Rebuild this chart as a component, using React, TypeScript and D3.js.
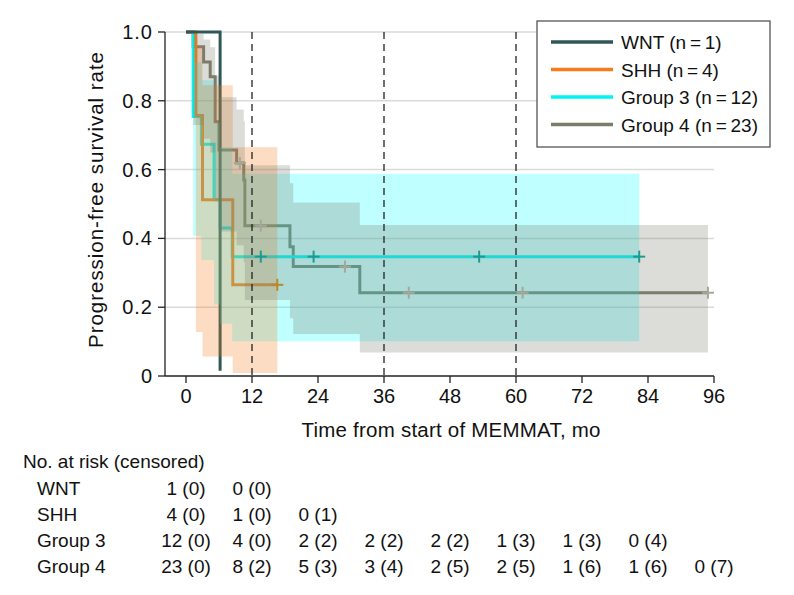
import React from "react";
import * as d3 from "d3";

// ---------- data ----------
const groupNames = ["WNT", "SHH", "Group 3", "Group 4"];
const groupN = [1, 4, 12, 23];
const lineColors = ["#2f5757", "#f47d1c", "#00f5f5", "#7c7c6a"];
const markColors = ["#2f5757", "#b8892c", "#1f9a92", "#a4a898"];

// step curves: time (mo) at which each level begins, survival level
const wntTimes = [0, 6.2];
const wntSurv = [1.0, 0.015];
const wntEnd = 6.2;

const shhTimes = [0, 1.8, 3.0, 8.5];
const shhSurv = [1.0, 0.757, 0.512, 0.265];
const shhLower = [1.0, 0.128, 0.057, 0.009];
const shhUpper = [1.0, 0.961, 0.845, 0.665];
const shhEnd = 16.6;
const shhCensor = [16.6];

const g3Times = [0, 1.3, 2.8, 5.1, 6.2, 8.4];
const g3Surv = [1.0, 0.754, 0.674, 0.512, 0.43, 0.347];
const g3Lower = [1.0, 0.408, 0.337, 0.208, 0.152, 0.101];
const g3Upper = [1.0, 0.912, 0.86, 0.736, 0.666, 0.588];
const g3End = 82.4;
const g3Censor = [13.6, 23.2, 53.3, 82.4];

const g4Times = [0, 1.3, 3.2, 4.4, 5.3, 6.0, 9.2, 10.5, 10.7, 18.9, 19.5, 31.6];
const g4Surv = [1.0, 0.957, 0.913, 0.87, 0.739, 0.657, 0.619, 0.57, 0.437, 0.376, 0.318, 0.242];
const g4Lower = [1.0, 0.73, 0.69, 0.65, 0.51, 0.42, 0.38, 0.33, 0.221, 0.168, 0.122, 0.068];
const g4Upper = [1.0, 0.994, 0.978, 0.956, 0.873, 0.81, 0.775, 0.74, 0.613, 0.56, 0.504, 0.439];
const g4End = 94.9;
const g4Censor = [9.8, 13.6, 28.9, 40.5, 61.2, 94.9];

const xTicks = [0, 12, 24, 36, 48, 60, 72, 84, 96];
const yTicks = [0, 0.2, 0.4, 0.6, 0.8, 1.0];
const yTickLabels = ["0", "0.2", "0.4", "0.6", "0.8", "1.0"];
const landmarks = [12, 36, 60];

const riskTimes = [0, 12, 24, 36, 48, 60, 72, 84, 96];
const wntAtRisk = [1, 0];
const wntCens = [0, 0];
const shhAtRisk = [4, 1, 0];
const shhCens = [0, 0, 1];
const g3AtRisk = [12, 4, 2, 2, 2, 1, 1, 0];
const g3Cens = [0, 0, 2, 2, 2, 3, 3, 4];
const g4AtRisk = [23, 8, 5, 3, 2, 2, 1, 1, 0];
const g4Cens = [0, 2, 3, 4, 5, 5, 6, 6, 7];

// ---------- helpers ----------
const FONT = "'Liberation Sans', Arial, sans-serif";
const x = d3.scaleLinear().domain([0, 96]).range([186, 714]);
const y = d3.scaleLinear().domain([0, 1]).range([376, 32]);

type P = { t: number; s: number; lo: number; hi: number };
function pts(times: number[], surv: number[], end: number, lo?: number[], hi?: number[]): P[] {
  const out: P[] = times.map((t, i) => ({ t, s: surv[i], lo: lo ? lo[i] : surv[i], hi: hi ? hi[i] : surv[i] }));
  const last = out[out.length - 1];
  if (end > last.t) out.push({ ...last, t: end });
  return out;
}
function stepAt(times: number[], surv: number[], t: number) {
  let v = surv[0];
  times.forEach((tt, i) => { if (tt <= t) v = surv[i]; });
  return v;
}

const line = d3.line<P>().x(d => x(d.t)).y(d => y(d.s)).curve(d3.curveStepAfter);
const area = d3.area<P>().x(d => x(d.t)).y0(d => y(d.lo)).y1(d => y(d.hi)).curve(d3.curveStepAfter);

const wntPts = pts(wntTimes, wntSurv, wntEnd);
const shhPts = pts(shhTimes, shhSurv, shhEnd, shhLower, shhUpper);
const g3Pts = pts(g3Times, g3Surv, g3End, g3Lower, g3Upper);
const g4Pts = pts(g4Times, g4Surv, g4End, g4Lower, g4Upper);

const fillColors = ["none", "#f47d1c", "#00ffff", "#7f7f6e"];
const FILL_OP = 0.27;

function Censor({ t, s, color }: { t: number; s: number; color: string }) {
  const cx = x(t), cy = y(s);
  return (
    <g stroke={color} strokeWidth={2}>
      <line x1={cx - 6} x2={cx + 6} y1={cy} y2={cy} />
      <line x1={cx} x2={cx} y1={cy - 6} y2={cy + 6} />
    </g>
  );
}

export default function App() {
  const riskRows = [
    { name: groupNames[0], n: wntAtRisk, c: wntCens },
    { name: groupNames[1], n: shhAtRisk, c: shhCens },
    { name: groupNames[2], n: g3AtRisk, c: g3Cens },
    { name: groupNames[3], n: g4AtRisk, c: g4Cens },
  ];
  const rowY = [495, 521, 547, 573];
  const legY = [42, 69.5, 97, 124.5];
  return (
    <svg width={794} height={595} style={{ position: "absolute", left: 0, top: 0, background: "#fff" }} fontFamily={FONT}>
      {/* gridlines */}
      {yTicks.filter(v => v > 0).map(v => (
        <line key={v} x1={165} x2={714} y1={y(v)} y2={y(v)} stroke="#dadada" strokeWidth={1.5} />
      ))}
      {/* survival lines (under the CI fills) */}
      <path d={line(g4Pts) || ""} fill="none" stroke={lineColors[3]} strokeWidth={3} />
      <path d={line(g3Pts) || ""} fill="none" stroke={lineColors[2]} strokeWidth={3} />
      <path d={line(shhPts) || ""} fill="none" stroke={lineColors[1]} strokeWidth={3} />
      <path d={line(wntPts) || ""} fill="none" stroke={lineColors[0]} strokeWidth={3} />
      {/* CI bands */}
      <path d={area(g3Pts) || ""} fill={fillColors[2]} fillOpacity={0.25} />
      <path d={area(shhPts) || ""} fill={fillColors[1]} fillOpacity={FILL_OP} />
      <path d={area(g4Pts) || ""} fill={fillColors[3]} fillOpacity={FILL_OP} />
      {/* censor marks */}
      {shhCensor.map(t => <Censor key={"s" + t} t={t} s={stepAt(shhTimes, shhSurv, t)} color={markColors[1]} />)}
      {g3Censor.map(t => <Censor key={"g3" + t} t={t} s={stepAt(g3Times, g3Surv, t)} color={markColors[2]} />)}
      {g4Censor.map(t => <Censor key={"g4" + t} t={t} s={stepAt(g4Times, g4Surv, t)} color={markColors[3]} />)}
      {/* landmark dashed lines */}
      {landmarks.map(t => (
        <line key={t} x1={x(t)} x2={x(t)} y1={y(1)} y2={y(0)} stroke="#222" strokeWidth={1.3} strokeDasharray="7 5" />
      ))}
      {/* axes */}
      <line x1={165} x2={165} y1={y(1)} y2={y(0)} stroke="#222" strokeWidth={1.3} />
      <line x1={165} x2={714} y1={y(0)} y2={y(0)} stroke="#222" strokeWidth={1.3} />
      {yTicks.map((v, i) => (
        <g key={v}>
          <line x1={158} x2={165} y1={y(v)} y2={y(v)} stroke="#222" strokeWidth={1.3} />
          <text x={153} y={y(v) + 7} textAnchor="end" fontSize={20} letterSpacing={1} fill="#111">{yTickLabels[i]}</text>
        </g>
      ))}
      {xTicks.map(t => (
        <g key={t}>
          <line x1={x(t)} x2={x(t)} y1={y(0)} y2={y(0) + 7} stroke="#222" strokeWidth={1.3} />
          <text x={x(t)} y={403} textAnchor="middle" fontSize={20} fill="#111">{t}</text>
        </g>
      ))}
      <text x={451} y={437} textAnchor="middle" fontSize={20.5} fill="#111" textLength={299} lengthAdjust="spacing">Time from start of MEMMAT, mo</text>
      <text transform="translate(103,200) rotate(-90)" textAnchor="middle" fontSize={20.5} fill="#111" textLength={296} lengthAdjust="spacing">Progression-free survival rate</text>
      {/* legend */}
      <rect x={537} y={21} width={233} height={126} fill="#fff" stroke="#555" strokeWidth={1.3} />
      {groupNames.map((g, i) => (
        <g key={g}>
          <line x1={551} x2={613} y1={legY[i]} y2={legY[i]} stroke={lineColors[i]} strokeWidth={3.5} />
          <text x={621} y={legY[i] + 7} fontSize={19} fill="#111">{`${g} (n\u2009=\u2009${groupN[i]})`}</text>
        </g>
      ))}
      {/* number at risk table */}
      <text x={23} y={468} fontSize={19} fill="#111">No. at risk (censored)</text>
      {riskRows.map((r, ri) => (
        <g key={r.name}>
          <text x={37} y={rowY[ri]} fontSize={19} fill="#111">{r.name}</text>
          {r.n.map((n, i) => (
            <text key={i} x={x(riskTimes[i])} y={rowY[ri]} textAnchor="middle" fontSize={19} fill="#111">{`${n} (${r.c[i]})`}</text>
          ))}
        </g>
      ))}
    </svg>
  );
}
